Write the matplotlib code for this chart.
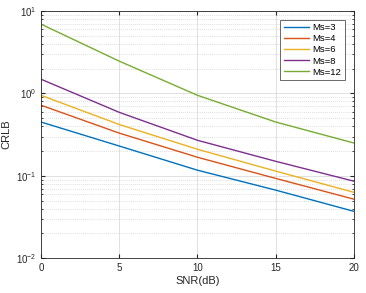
import numpy as np
import matplotlib.pyplot as plt
from matplotlib.ticker import LogLocator, NullFormatter

plt.rcParams['font.family'] = ['Liberation Sans', 'DejaVu Sans']

snr = [0, 5, 10, 15, 20]
labels = ['Ms=3', 'Ms=4', 'Ms=6', 'Ms=8', 'Ms=12']
crlb_ms3 = [0.45, 0.23, 0.117, 0.067, 0.037]
crlb_ms4 = [0.72, 0.33, 0.168, 0.093, 0.052]
crlb_ms6 = [0.95, 0.42, 0.21, 0.114, 0.063]
crlb_ms8 = [1.49, 0.59, 0.27, 0.15, 0.086]
crlb_ms12 = [6.95, 2.47, 0.95, 0.45, 0.25]
colors = ['#0072BD', '#D95319', '#EDB120', '#7E2F8E', '#77AC30']

fig = plt.figure(figsize=(3.66, 2.93), dpi=100)
ax = fig.add_axes([0.112, 0.119, 0.855, 0.843])

for ys, lab, c in zip([crlb_ms3, crlb_ms4, crlb_ms6, crlb_ms8, crlb_ms12], labels, colors):
    ax.semilogy(snr, ys, color=c, lw=1.0, label=lab)

ax.set_xlim(0, 20)
ax.set_ylim(1e-2, 1e1)
ax.set_xticks([0, 5, 10, 15, 20])
ax.yaxis.set_major_locator(LogLocator(base=10, numticks=10))
ax.yaxis.set_minor_locator(LogLocator(base=10, subs=np.arange(2, 10), numticks=10))
ax.yaxis.set_minor_formatter(NullFormatter())

ax.grid(True, which='major', color='#dcdcdc', lw=0.6)
ax.grid(True, which='minor', axis='y', color='#c0c0c0', lw=0.5, ls=(0, (1, 2)))
ax.tick_params(which='both', direction='in', labelsize=7, colors='#262626', top=True, right=True)
ax.tick_params(which='major', length=3)
ax.tick_params(which='minor', length=1.5)
for s in ax.spines.values():
    s.set_color('#262626')
    s.set_linewidth(0.6)

ax.set_xlabel('SNR(dB)', fontsize=8, color='#262626', labelpad=2)
ax.set_ylabel('CRLB', fontsize=8, color='#262626', labelpad=3)

leg = ax.legend(loc='upper right', fontsize=6.8, frameon=True, fancybox=False,
                edgecolor='#262626', handlelength=2.7, borderpad=0.4,
                labelspacing=0.22, handletextpad=0.3, bbox_to_anchor=(0.985, 0.985))
leg.get_frame().set_linewidth(0.6)

fig.savefig('out.png', dpi=100)
